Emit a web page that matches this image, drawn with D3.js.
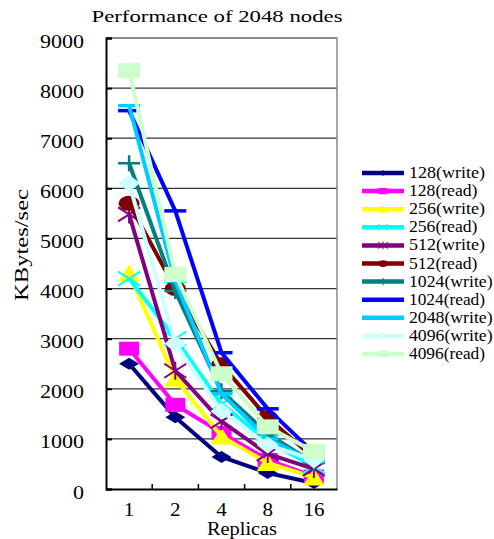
<!DOCTYPE html>
<html lang="en">
<head>
  <meta charset="UTF-8">
  <title>Performance of 2048 nodes</title>
  <!-- Load d3.js -->
  <script src="https://d3js.org/d3.v7.min.js"></script>
  <style>
    body { margin: 0; background: #fff; }
    svg text { font-family: "Liberation Serif", Tinos, "Times New Roman", Times, serif; fill: #000; }
  </style>
</head>
<body>

<div id="chart"></div>

<script>
  // categories on the x axis
  var replicas = ["1", "2", "4", "8", "16"];
  // y axis ticks
  var yTicks = [0, 1000, 2000, 3000, 4000, 5000, 6000, 7000, 8000, 9000];

  // values (KBytes/sec), one array per series
  var write128  = [2500, 1430, 640, 320, 120];
  var read128   = [2800, 1680, 1120, 580, 250];
  var write256  = [4300, 2200, 1050, 520, 230];
  var read256   = [4200, 3000, 1700, 950, 450];
  var write512  = [5480, 2360, 1350, 700, 400];
  var read512   = [5700, 4000, 2480, 1420, 620];
  var write1024 = [6500, 3950, 1950, 1100, 520];
  var read1024  = [7550, 5550, 2720, 1600, 720];
  var write2048 = [7650, 4150, 1900, 1000, 550];
  var write4096 = [6100, 2900, 1550, 880, 580];
  var read4096  = [8350, 4280, 2300, 1240, 750];

  var seriesNames = ["128(write)", "128(read)", "256(write)", "256(read)", "512(write)", "512(read)",
                     "1024(write)", "1024(read)", "2048(write)", "4096(write)", "4096(read)"];
  var seriesValues = [write128, read128, write256, read256, write512, read512,
                      write1024, read1024, write2048, write4096, read4096];
  var seriesColors = ["#000080", "#FF00FF", "#FFFF00", "#00FFFF", "#800080", "#800000",
                      "#008080", "#0000FF", "#00CCFF", "#CCFFFF", "#CCFFCC"];
  var seriesMarkers = ["diamond", "square", "triangle", "cross", "star", "circle",
                       "plus", "dash", "dash", "bigDiamond", "bigSquare"];

  var width = 494, height = 539;
  var plot = { left: 106, right: 337, top: 38, bottom: 489 };

  var svg = d3.select("#chart")
    .append("svg")
    .attr("width", width)
    .attr("height", height);

  // scales
  var x = d3.scaleBand().domain(replicas).range([plot.left, plot.right]);
  var y = d3.scaleLinear().domain([0, 9000]).range([plot.bottom, plot.top]);

  // stretch a text to a given width, like the scanned original
  function fitWidth(sel, target) {
    sel.each(function(d) {
      var w = typeof target === "function" ? target(this) : target;
      d3.select(this).attr("textLength", w).attr("lengthAdjust", "spacingAndGlyphs");
    });
  }

  // gridlines
  svg.append("g")
    .selectAll("line")
    .data(yTicks.slice(1))
    .enter().append("line")
    .attr("x1", plot.left).attr("x2", plot.right)
    .attr("y1", function(d) { return y(d); })
    .attr("y2", function(d) { return y(d); })
    .attr("stroke", "#333")
    .attr("stroke-width", 1.2);

  // right and top frame
  svg.append("path")
    .attr("d", "M" + plot.left + "," + plot.top + "H" + plot.right + "V" + plot.bottom)
    .attr("fill", "none")
    .attr("stroke", "#888")
    .attr("stroke-width", 1.5);

  // Y axis
  var yAxis = svg.append("g")
    .attr("transform", "translate(" + plot.left + ",0)")
    .call(d3.axisLeft(y).tickValues(yTicks).tickSize(-6).tickPadding(22).tickFormat(d3.format("d")));
  yAxis.attr("font-family", null);
  yAxis.select(".domain").attr("stroke", "#000").attr("stroke-width", 2);
  yAxis.selectAll(".tick line").attr("stroke", "#000").attr("stroke-width", 2);
  yAxis.selectAll("text")
    .attr("font-size", 18)
    .attr("dy", "0.5em");
  // about 11px per digit in the original
  fitWidth(yAxis.selectAll("text"), function(el) { return el.textContent.length * 11; });

  // X axis
  var xAxis = svg.append("g")
    .attr("transform", "translate(0," + plot.bottom + ")")
    .call(d3.axisBottom(x).tickSize(0).tickPadding(14));
  xAxis.attr("font-family", null);
  xAxis.select(".domain").attr("stroke", "#000").attr("stroke-width", 2);
  xAxis.selectAll("text")
    .attr("font-size", 18);
  fitWidth(xAxis.selectAll("text"), function(el) { return el.textContent.length * 10.5; });

  // small ticks between the categories
  svg.append("g")
    .selectAll("line")
    .data(replicas.slice(0, -1))
    .enter().append("line")
    .attr("x1", function(d) { return x(d) + x.bandwidth(); })
    .attr("x2", function(d) { return x(d) + x.bandwidth(); })
    .attr("y1", plot.bottom)
    .attr("y2", plot.bottom - 5)
    .attr("stroke", "#000")
    .attr("stroke-width", 1.5);

  // marker shapes
  var markerPaths = {
    diamond: { d: "M0,-6L10,0L0,6L-10,0Z", fill: true },
    square: { d: "M-10,-7H10V7H-10Z", fill: true },
    triangle: { d: "M0,-9L11,8L-11,8Z", fill: true },
    cross: { d: "M-11,-7L11,7M-11,7L11,-7", fill: false, sw: 2 },
    star: { d: "M-11,-7L11,7M-11,7L11,-7M0,-9V9", fill: false, sw: 2 },
    circle: { d: "M-10.5,0A10.5,7.5 0 1,0 10.5,0A10.5,7.5 0 1,0 -10.5,0Z", fill: true },
    plus: { d: "M-11,0H11M0,-8V8", fill: false, sw: 2.5 },
    dash: { d: "M-11,0H11", fill: false, sw: 3.5 },
    bigDiamond: { d: "M0,-8.5L11,0L0,8.5L-11,0Z", fill: true },
    bigSquare: { d: "M-11,-7.5H11V7.5H-11Z", fill: true }
  };

  function drawMarker(g, type, color, scale) {
    var m = markerPaths[type];
    g.append("path")
      .attr("d", m.d)
      .attr("transform", "scale(" + scale + ")")
      .attr("fill", m.fill ? color : "none")
      .attr("stroke", m.fill ? "none" : color)
      .attr("stroke-width", m.sw ? m.sw : 0);
  }

  var line = d3.line()
    .x(function(d, i) { return x(replicas[i]) + x.bandwidth() / 2; })
    .y(function(d) { return y(d); });

  // draw each series: line then markers
  seriesValues.forEach(function(values, k) {
    var g = svg.append("g").attr("class", "series");
    g.append("path")
      .datum(values)
      .attr("fill", "none")
      .attr("stroke", seriesColors[k])
      .attr("stroke-width", 4)
      .attr("stroke-linejoin", "round")
      .attr("d", line);
    values.forEach(function(v, i) {
      var mg = g.append("g")
        .attr("transform", "translate(" + (x(replicas[i]) + x.bandwidth() / 2) + "," + y(v) + ")");
      drawMarker(mg, seriesMarkers[k], seriesColors[k], 1);
    });
  });

  // legend
  var legend = svg.append("g").attr("transform", "translate(362,173)");
  var rows = legend.selectAll(".legend")
    .data(seriesNames)
    .enter().append("g")
    .attr("class", "legend")
    .attr("transform", function(d, i) { return "translate(0," + i * 18.1 + ")"; });

  rows.append("line")
    .attr("x1", 0).attr("x2", 42)
    .attr("stroke", function(d, i) { return seriesColors[i]; })
    .attr("stroke-width", 4.5);

  rows.each(function(d, i) {
    var mg = d3.select(this).append("g").attr("transform", "translate(21,0)");
    drawMarker(mg, seriesMarkers[i], seriesColors[i], 0.45);
  });

  var legendText = rows.append("text")
    .attr("x", 47)
    .attr("y", 5)
    .attr("font-size", 17)
    .text(function(d) { return d; });
  // roughly 7.6px per character in the original legend
  fitWidth(legendText, function(el) { return el.textContent.length * 7.6; });

  // title
  svg.append("text")
    .attr("x", 217)
    .attr("y", 22)
    .attr("text-anchor", "middle")
    .attr("font-size", 17)
    .attr("textLength", 251)
    .attr("lengthAdjust", "spacingAndGlyphs")
    .text("Performance of 2048 nodes");

  // axis titles
  svg.append("text")
    .attr("x", 242)
    .attr("y", 535)
    .attr("text-anchor", "middle")
    .attr("font-size", 18)
    .attr("textLength", 70)
    .attr("lengthAdjust", "spacingAndGlyphs")
    .text("Replicas");

  svg.append("text")
    .attr("transform", "translate(28,245) rotate(-90)")
    .attr("text-anchor", "middle")
    .attr("font-size", 18)
    .attr("textLength", 112)
    .attr("lengthAdjust", "spacingAndGlyphs")
    .text("KBytes/sec");
</script>

</body>
</html>
